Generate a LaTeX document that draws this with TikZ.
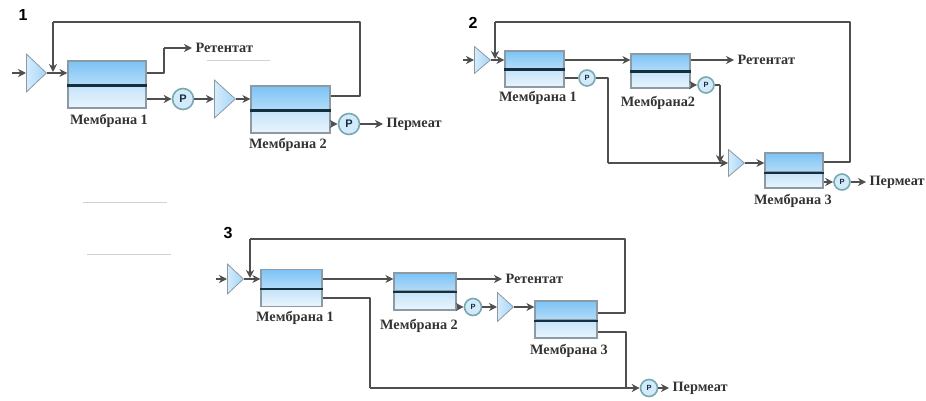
\documentclass[tikz,border=0pt]{standalone}
\usepackage{fontspec}
\setmainfont{Liberation Serif}
\setsansfont{Liberation Sans}
\usetikzlibrary{shapes.geometric,arrows.meta}

\definecolor{upTop}{HTML}{7CC3F6}
\definecolor{upBot}{HTML}{B4DCF8}
\definecolor{lowTop}{HTML}{C4E3F9}
\definecolor{lowBot}{HTML}{E9F5FD}
\definecolor{edge}{HTML}{8C9AA3}
\definecolor{pipeCol}{HTML}{4F4F4F}
\definecolor{barCol}{HTML}{14303F}

\tikzset{
  upper/.style={draw=edge,line width=1.2pt,rectangle,top color=upTop,bottom color=upBot,inner sep=0pt},
  lower/.style={draw=edge,line width=1.2pt,rectangle,top color=lowTop,bottom color=lowBot,inner sep=0pt},
  ampl/.style={isosceles triangle,isosceles triangle apex angle=55,isosceles triangle stretches,shape border rotate=0,draw=edge,line width=.8pt,left color=lowTop!70!white,right color=upTop!70!white,inner sep=0pt,anchor=lower side},
  pump/.style={circle,draw=edge!85!cyan,line width=1.6pt,fill=lowTop!75!white,inner sep=0pt,font=\sffamily\bfseries\fontsize{7.5}{8}\selectfont,text=barCol},
  bigpump/.style={pump,font=\sffamily\bfseries\fontsize{11}{11}\selectfont},
  txt/.style={font=\bfseries\fontsize{14.3}{15}\selectfont,text=black!80},
  num/.style={font=\sffamily\bfseries\fontsize{16}{16}\selectfont},
  pipe/.style={draw=pipeCol,line width=1.8pt,line join=round},
  flow/.style={pipe,-{Stealth[length=8pt,width=8pt,inset=2.5pt]}},
  bar/.style={line width=2.2pt,draw=barCol},
  ghost/.style={line width=.8pt,draw=gray!35}
}

\begin{document}
\begin{tikzpicture}[x=1pt,y=-1pt]
  \useasboundingbox (0,0) rectangle (926,401);

  % scheme 1
  \node [num] (a0) at (23,15) {1};
  \coordinate (a1) at (12,73);
  \node [ampl,minimum height=20pt,minimum width=38pt] (a2) at (26,73) {};
  \node [upper,minimum width=78pt,minimum height=24pt] (a3) at (107,73) {};
  \node [lower,minimum width=78pt,minimum height=23pt] (a4) at (107,96.5) {};
  \node [bigpump,minimum size=21pt] (a5) at (183,99) {P};
  \node [ampl,minimum height=21pt,minimum width=38pt] (a6) at (214,99) {};
  \node [upper,minimum width=79pt,minimum height=24pt] (a7) at (290.5,98) {};
  \node [lower,minimum width=79pt,minimum height=23pt] (a8) at (290.5,121.5) {};
  \node [bigpump,minimum size=21pt] (a9) at (349,124) {P};
  \node [txt,anchor=west] (a10) at (192,48) {Ретентат};
  \node [txt,anchor=west] (a11) at (383,124) {Пермеат};
  \node [txt] (a12) at (109,121) {Мембрана 1};
  \node [txt] (a13) at (288,145) {Мембрана 2};
  \coordinate (a14) at (53,72);
  \coordinate (a15) at (53,22);
  \coordinate (a16) at (360,22);
  \coordinate (a17) at (360,96);
  \coordinate (a18) at (164,73);
  \coordinate (a19) at (164,48);

  \foreach \from/\to in {a1/a2.lower side, a2.apex/a3.west, a4.east |- a5/a5, a5/a6.lower side, a6.apex/a7.west |- a6.apex, a8.east |- a9/a9, a9/a11.west, a19/a10.west, a15/a14}
    \draw [flow] (\from) -- (\to);
  \draw [pipe] (a3.east) -- (a18) -- (a19);
  \draw [pipe] (a7.east |- a17) -- (a17) -- (a16) -- (a15);
  \draw [bar] (a3.south west) -- (a3.south east);
  \draw [bar] (a7.south west) -- (a7.south east);
  \draw [ghost] (207,60) -- (270,60);
  \draw [ghost] (83,202) -- (167,202);
  \draw [ghost] (87,254) -- (171,254);

  % scheme 2
  \node [num] (b0) at (473,23) {2};
  \coordinate (b1) at (463,60);
  \node [ampl,minimum height=16pt,minimum width=27pt] (b2) at (474,60) {};
  \node [upper,minimum width=59pt,minimum height=18pt] (b3) at (534.5,60) {};
  \node [lower,minimum width=59pt,minimum height=18pt] (b4) at (534.5,78) {};
  \node [pump,minimum size=16pt] (b5) at (587,78) {P};
  \node [upper,minimum width=59pt,minimum height=17pt] (b6) at (660.5,62.5) {};
  \node [lower,minimum width=59pt,minimum height=17pt] (b7) at (660.5,79.5) {};
  \node [pump,minimum size=16pt] (b8) at (706,85) {P};
  \node [ampl,minimum height=16pt,minimum width=27pt] (b9) at (728,163) {};
  \node [upper,minimum width=58pt,minimum height=19pt] (b10) at (794,162.5) {};
  \node [lower,minimum width=58pt,minimum height=16pt] (b11) at (794,180) {};
  \node [pump,minimum size=16pt] (b12) at (842,182) {P};
  \node [txt,anchor=west] (b13) at (734,60) {Ретентат};
  \node [txt,anchor=west] (b14) at (866,182) {Пермеат};
  \node [txt] (b15) at (538,98) {Мембрана 1};
  \node [txt] (b16) at (658,103) {Мембрана2};
  \node [txt] (b17) at (793,201) {Мембрана 3};
  \coordinate (b18) at (495,59);
  \coordinate (b19) at (495,22);
  \coordinate (b20) at (850,22);
  \coordinate (b21) at (850,162);
  \coordinate (b22) at (608,78);
  \coordinate (b23) at (608,163);
  \coordinate (b24) at (720,163);
  \coordinate (b25) at (720,85);

  \foreach \from/\to in {b1/b2.lower side, b2.apex/b3.west |- b2.apex, b3.east/b6.west |- b3.east, b6.east |- b13.west/b13.west, b7.east |- b8/b8, b9.apex/b10.west |- b9.apex, b11.east |- b12/b12, b12/b14.west, b19/b18, b23/b9.lower side, b25/b24}
    \draw [flow] (\from) -- (\to);
  \draw [pipe] (b10.east |- b21) -- (b21) -- (b20) -- (b19);
  \draw [pipe] (b4.east |- b5) -- (b5);
  \draw [pipe] (b5) -- (b22) -- (b23);
  \draw [pipe] (b8) -- (b25);
  \draw [bar] (b3.south west) -- (b3.south east);
  \draw [bar] (b6.south west) -- (b6.south east);
  \draw [bar] (b10.south west) -- (b10.south east);

  % scheme 3
  \node [num] (c0) at (228,233) {3};
  \coordinate (c1) at (216,279);
  \node [ampl,minimum height=16pt,minimum width=30pt] (c2) at (227,279) {};
  \node [upper,minimum width=61pt,minimum height=19pt] (c3) at (291.5,279) {};
  \node [lower,minimum width=61pt,minimum height=18pt] (c4) at (291.5,297.5) {};
  \node [upper,minimum width=62pt,minimum height=18pt] (c5) at (425,282) {};
  \node [lower,minimum width=62pt,minimum height=19pt] (c6) at (425,300.5) {};
  \node [pump,minimum size=17pt] (c7) at (473,307) {P};
  \node [ampl,minimum height=16pt,minimum width=29pt] (c8) at (497,307) {};
  \node [upper,minimum width=62pt,minimum height=19pt] (c9) at (566,310.5) {};
  \node [lower,minimum width=62pt,minimum height=18pt] (c10) at (566,329) {};
  \node [pump,minimum size=17pt] (c11) at (649,388) {P};
  \node [txt,anchor=west] (c12) at (502,279) {Ретентат};
  \node [txt,anchor=west] (c13) at (669,388) {Пермеат};
  \node [txt] (c14) at (295,318) {Мембрана 1};
  \node [txt] (c15) at (419,326) {Мембрана 2};
  \node [txt] (c16) at (569,351) {Мембрана 3};
  \coordinate (c17) at (250,278);
  \coordinate (c18) at (250,239);
  \coordinate (c19) at (625,239);
  \coordinate (c20) at (625,313);
  \coordinate (c21) at (370,298);
  \coordinate (c22) at (370,388);
  \coordinate (c23) at (626,332);
  \coordinate (c24) at (626,388);

  \foreach \from/\to in {c1/c2.lower side, c2.apex/c3.west |- c2.apex, c3.east/c5.west |- c3.east, c5.east |- c12.west/c12.west, c6.east |- c7/c7, c7/c8.lower side, c8.apex/c9.west |- c8.apex, c11/c13.west, c18/c17, c22/c11}
    \draw [flow] (\from) -- (\to);
  \draw [pipe] (c9.east |- c20) -- (c20) -- (c19) -- (c18);
  \draw [pipe] (c4.east |- c21) -- (c21) -- (c22);
  \draw [pipe] (c10.east |- c23) -- (c23) -- (c24);
  \draw [bar] (c3.south west) -- (c3.south east);
  \draw [bar] (c5.south west) -- (c5.south east);
  \draw [bar] (c9.south west) -- (c9.south east);
\end{tikzpicture}
\end{document}
